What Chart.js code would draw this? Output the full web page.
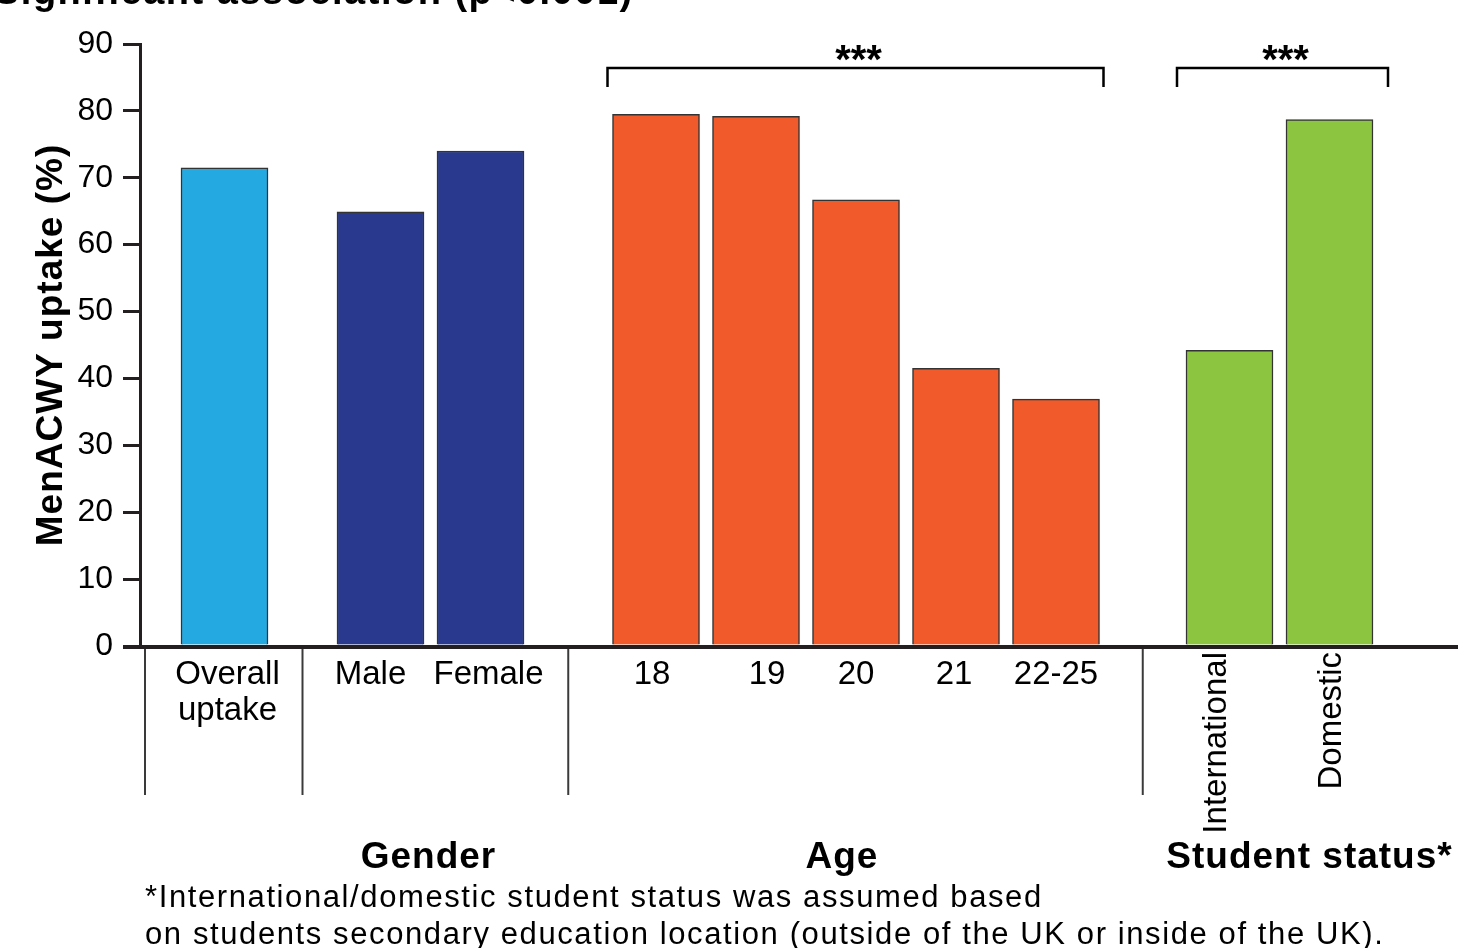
<!DOCTYPE html>
<html>
<head>
<meta charset="utf-8">
<script src="https://cdn.jsdelivr.net/npm/chart.js@4"></script>
<style>
  html, body { margin: 0; padding: 0; background: #fff; }
  canvas { display: block; }
</style>
</head>
<body>
<canvas id="myChart" width="1458" height="948"></canvas>
<script>
// values
const categories = ["Overall\nuptake", "Male", "Female", "18", "19", "20", "21", "22-25", "International", "Domestic"];
const uptake = [71.5, 64.9, 74.0, 79.5, 79.2, 66.7, 41.5, 36.9, 44.2, 78.7];
const groupOf = [0, 1, 1, 2, 2, 2, 2, 2, 3, 3];
const groupNames = ["", "Gender", "Age", "Student status*"];
const groupColors = ["#24a9e1", "#293a8e", "#f15a2b", "#8cc540"];
const significantGroups = [2, 3];
const rotatedLabels = ["International", "Domestic"];
const footnote = [
  "*International/domestic student status was assumed based",
  "on students secondary education location (outside of the UK or inside of the UK)."
];

// layout tweaks (pixels / bar slots), not data
const groupShift = [0, 0.56, 1.315, 2.05];
const titleNudge = [0, -2, -14, 30];
const labelNudge = [3, -10, 8, -4, 11, 0, -2, 0, -13, 2];
const bracketPad = { 2: [5, 4], 3: [9, 15] };

const FONT = "'Liberation Sans', Arial, sans-serif";
const INK = "#231f20";

const points = uptake.map((v, i) => ({ x: i + groupShift[groupOf[i]], y: v }));

const extras = {
  id: "extras",
  afterDraw(chart) {
    const c = chart.ctx;
    const area = chart.chartArea;
    const bars = chart.getDatasetMeta(0).data;
    const half = bars[0].width / 2;
    c.save();

    // x axis line
    c.strokeStyle = INK;
    c.lineWidth = 4;
    c.beginPath();
    c.moveTo(area.left - 17, area.bottom + 1);
    c.lineTo(chart.width, area.bottom + 1);
    c.stroke();

    // category labels
    c.fillStyle = "#000";
    c.font = "33px " + FONT;
    c.textAlign = "center";
    c.textBaseline = "alphabetic";
    categories.forEach((lab, i) => {
      const x = bars[i].x + labelNudge[i];
      if (rotatedLabels.includes(lab)) {
        c.save();
        c.translate(x, area.bottom + 6);
        c.rotate(-Math.PI / 2);
        c.textAlign = "right";
        c.textBaseline = "middle";
        c.fillText(lab, 0, 0);
        c.restore();
      } else {
        const lines = lab.split("\n");
        lines.forEach((ln, k) => c.fillText(ln, x, area.bottom + 38 + k * 36));
      }
    });

    // separators between groups
    c.strokeStyle = "#3a3a3a";
    c.lineWidth = 2;
    const seps = [area.left + 5];
    for (let i = 1; i < categories.length; i++) {
      if (groupOf[i] !== groupOf[i - 1]) {
        seps.push((bars[i - 1].x + half + bars[i].x - half) / 2);
      }
    }
    seps.forEach(x => {
      c.beginPath();
      c.moveTo(x, area.bottom + 3);
      c.lineTo(x, area.bottom + 149);
      c.stroke();
    });

    // group titles
    c.font = "bold 37px " + FONT;
    c.letterSpacing = "1px";
    c.fillStyle = "#000";
    groupNames.forEach((name, g) => {
      if (!name) return;
      const idx = groupOf.map((gg, i) => gg === g ? i : -1).filter(i => i >= 0);
      const mid = (bars[idx[0]].x + bars[idx[idx.length - 1]].x) / 2;
      c.fillText(name, mid + titleNudge[g], area.bottom + 222);
    });
    c.letterSpacing = "0px";

    // significance brackets
    c.strokeStyle = "#000";
    c.lineWidth = 2.5;
    significantGroups.forEach(g => {
      const idx = groupOf.map((gg, i) => gg === g ? i : -1).filter(i => i >= 0);
      const x1 = bars[idx[0]].x - half - bracketPad[g][0];
      const x2 = bars[idx[idx.length - 1]].x + half + bracketPad[g][1];
      const yTop = 68;
      c.beginPath();
      c.moveTo(x1, yTop + 19);
      c.lineTo(x1, yTop);
      c.lineTo(x2, yTop);
      c.lineTo(x2, yTop + 19);
      c.stroke();
      c.font = "bold 40px " + FONT;
      c.textAlign = "center";
      c.textBaseline = "alphabetic";
      c.fillText("***", (x1 + x2) / 2 + 3, 73);
    });

    // y axis title
    c.save();
    c.translate(62, 345);
    c.rotate(-Math.PI / 2);
    c.font = "bold 37px " + FONT;
    c.letterSpacing = "1px";
    c.textAlign = "center";
    c.textBaseline = "alphabetic";
    c.fillText("MenACWY uptake (%)", 0, 0);
    c.restore();

    // cut-off heading at the very top
    c.font = "bold 38px " + FONT;
    c.letterSpacing = "1.5px";
    c.textAlign = "left";
    c.textBaseline = "alphabetic";
    c.fillText("Significant association (p<0.001)", -6, 4);

    // footnote
    c.font = "31px " + FONT;
    c.letterSpacing = "1.6px";
    footnote.forEach((ln, k) => c.fillText(ln, 145, 907 + k * 37));

    c.restore();
  }
};

new Chart(document.getElementById("myChart"), {
  type: "bar",
  data: {
    datasets: [
      {
        data: points,
        backgroundColor: groupOf.map(g => groupColors[g]),
        borderColor: "#333",
        borderWidth: 1.5,
        barThickness: 87,
      },
    ],
  },
  options: {
    responsive: false,
    animation: false,
    layout: { padding: { top: 44, left: 0, right: 0, bottom: 302 } },
    plugins: { legend: { display: false }, tooltip: { enabled: false } },
    scales: {
      x: { type: "linear", display: false, offset: false, bounds: "data", min: -0.845, max: 12.335 },
      y: {
        min: 0,
        max: 90,
        afterFit: s => { s.width = 140; },
        ticks: { stepSize: 10, padding: 10, color: "#000", font: { family: FONT, size: 32 } },
        grid: { drawOnChartArea: false, tickLength: 17, lineWidth: 3, color: INK },
        border: { width: 3, color: INK },
      },
    },
  },
  plugins: [extras],
});
</script>
</body>
</html>
